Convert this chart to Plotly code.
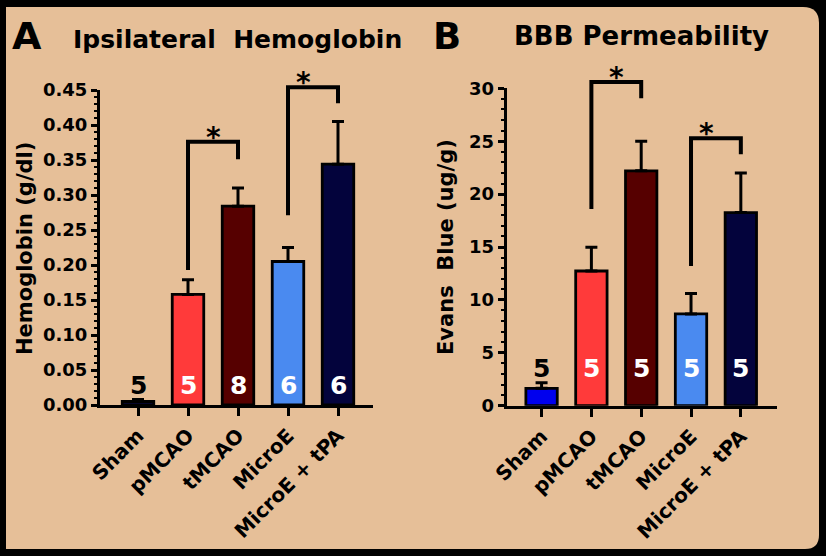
import plotly.graph_objects as go

# ---------------- data ----------------
categories = ["Sham", "pMCAO", "tMCAO", "MicroE", "MicroE + tPA"]

hb_mean = [0.005, 0.158, 0.284, 0.205, 0.344]
hb_sem = [0.003, 0.021, 0.026, 0.020, 0.061]
hb_n = [5, 5, 8, 6, 6]

eb_mean = [1.64, 12.73, 22.2, 8.67, 18.25]
eb_sem = [0.53, 2.24, 2.8, 1.93, 3.75]
eb_n = [5, 5, 5, 5, 5]

colors_a = ["#0b0b55", "#ff3a3a", "#560000", "#4a8af0", "#03033c"]
colors_b = ["#0000ee", "#ff3a3a", "#560000", "#4a8af0", "#03033c"]
n_colors = ["black", "white", "white", "white", "white"]

# brackets: (left index, right index, left leg bottom, top, right leg bottom)
hb_brackets = [(1, 2, 0.193, 0.376, 0.351), (3, 4, 0.271, 0.454, 0.431)]
eb_brackets = [(1, 2, 18.6, 30.6, 29.05), (3, 4, 13.2, 25.27, 23.76)]

W, H = 826, 556
BG = "#e6bf98"
FONT = "DejaVu Sans"

XR_A = [-0.76, 4.7]
XR_B = [-0.70, 4.72]
YR_A = [0, 0.45]
YR_B = [0, 30]


def px(x):
    return x / W


def py(y):
    return 1 - y / H


fig = go.Figure()

for means, sems, cols, xa, ya in [
    (hb_mean, hb_sem, colors_a, "x", "y"),
    (eb_mean, eb_sem, colors_b, "x2", "y2"),
]:
    fig.add_trace(go.Bar(
        x=categories, y=means, xaxis=xa, yaxis=ya,
        width=0.63,
        marker=dict(color=cols, line=dict(color="black", width=2.8)),
        error_y=dict(type="data", symmetric=False, array=sems,
                     arrayminus=[0] * len(sems), color="black",
                     thickness=3, width=6),
        showlegend=False, hoverinfo="skip",
    ))

shapes = []
annotations = []

# frame
L, T, R, B = 6, 7, 819, 549
r1, r2 = 16, 14
pts = (f"M {px(L)},{py(T)} L {px(R - r1)},{py(T)} "
       f"Q {px(R)},{py(T)} {px(R)},{py(T + r1)} "
       f"L {px(R)},{py(B - r2)} Q {px(R)},{py(B)} {px(R - r2)},{py(B)} "
       f"L {px(L)},{py(B)} Z")
shapes.append(dict(type="path", xref="paper", yref="paper", path=pts,
                   fillcolor=BG, line=dict(width=0), layer="below"))

# brackets and stars (in axis-domain units so they are not clipped)
for brackets, xa, ya, xr, yr in [(hb_brackets, "x", "y", XR_A, YR_A),
                                 (eb_brackets, "x2", "y2", XR_B, YR_B)]:
    def fx(i):
        return (i - xr[0]) / (xr[1] - xr[0])

    def fy(v):
        return (v - yr[0]) / (yr[1] - yr[0])

    for (i0, i1, lb, top, rb) in brackets:
        path = (f"M {fx(i0)},{fy(lb)} L {fx(i0)},{fy(top)} "
                f"L {fx(i1)},{fy(top)} L {fx(i1)},{fy(rb)}")
        shapes.append(dict(type="path", xref=xa + " domain", yref=ya + " domain",
                           path=path, line=dict(color="black", width=4)))
        annotations.append(dict(x=fx((i0 + i1) / 2), y=fy(top),
                                xref=xa + " domain", yref=ya + " domain",
                                text="*", showarrow=False, yanchor="bottom",
                                yshift=-14,
                                font=dict(family=FONT, size=28, color="black",
                                          weight="bold")))

# n labels
for ns, xa, ya, shift, fs in [(hb_n, "x", "y", 20, 25), (eb_n, "x2", "y2", 37, 25)]:
    for i, n in enumerate(ns):
        annotations.append(dict(x=i, y=0, xref=xa, yref=ya, text=str(n),
                                showarrow=False, yshift=shift,
                                font=dict(family=FONT, size=fs, color=n_colors[i],
                                          weight="bold")))

# panel letters and titles
for txt, x, y, fs in [("A", 27, 36, 38), ("B", 447, 36, 37),
                      ("Ipsilateral\u00a0 Hemoglobin", 237, 39, 25),
                      ("BBB Permeability", 641, 36, 26)]:
    annotations.append(dict(x=px(x), y=py(y), xref="paper", yref="paper",
                            text=txt, showarrow=False, xanchor="center",
                            yanchor="middle",
                            font=dict(family=FONT, size=fs, color="black",
                                      weight="bold")))

# y axis titles
for txt, x, y in [("Hemoglobin (g/dl)", 25, 249), ("Evans\u00a0 Blue (ug/g)", 446, 247)]:
    annotations.append(dict(x=px(x), y=py(y), xref="paper", yref="paper",
                            text=txt, showarrow=False, textangle=-90,
                            xanchor="center", yanchor="middle",
                            font=dict(family=FONT, size=21, color="black",
                                      weight="bold")))

tickfont = dict(family=FONT, size=18, color="black", weight="bold")
xtickfont = dict(family=FONT, size=20, color="black", weight="bold")

xcommon = dict(showline=True, linecolor="black", linewidth=3, ticks="outside",
               ticklen=8, tickwidth=3, tickcolor="black", tickangle=-45,
               tickfont=xtickfont, showgrid=False, zeroline=False,
               fixedrange=True, automargin=False)
ycommon = dict(showline=True, linecolor="black", linewidth=3, ticks="outside",
               ticklen=6, tickwidth=3, tickcolor="black", tickfont=tickfont,
               showgrid=False, zeroline=False, fixedrange=True, automargin=False)

fig.update_layout(
    template="none",
    width=W, height=H, margin=dict(l=0, r=0, t=0, b=0, pad=0, autoexpand=False),
    paper_bgcolor="black", plot_bgcolor="rgba(0,0,0,0)",
    shapes=shapes, annotations=annotations, showlegend=False,
    xaxis=dict(domain=[px(100), px(373)], range=XR_A, anchor="y", **xcommon),
    yaxis=dict(domain=[py(405), py(90)], range=YR_A, dtick=0.05,
               tickformat=".2f", anchor="x",
               minor=dict(ticks="outside", ticklen=3, tickwidth=2,
                          tickcolor="black", dtick=0.01),
               **ycommon),
    xaxis2=dict(domain=[px(506.7), px(776.7)], range=XR_B, anchor="y2", **xcommon),
    yaxis2=dict(domain=[py(405.7), py(88.3)], range=YR_B, dtick=5,
                anchor="x2",
                minor=dict(ticks="outside", ticklen=3, tickwidth=2,
                           tickcolor="black", dtick=1),
                **ycommon),
)

fig.write_html(
    "out.html",
    config={"displayModeBar": False},
    post_script="document.body.style.margin='0';document.body.style.overflow='hidden';",
)
